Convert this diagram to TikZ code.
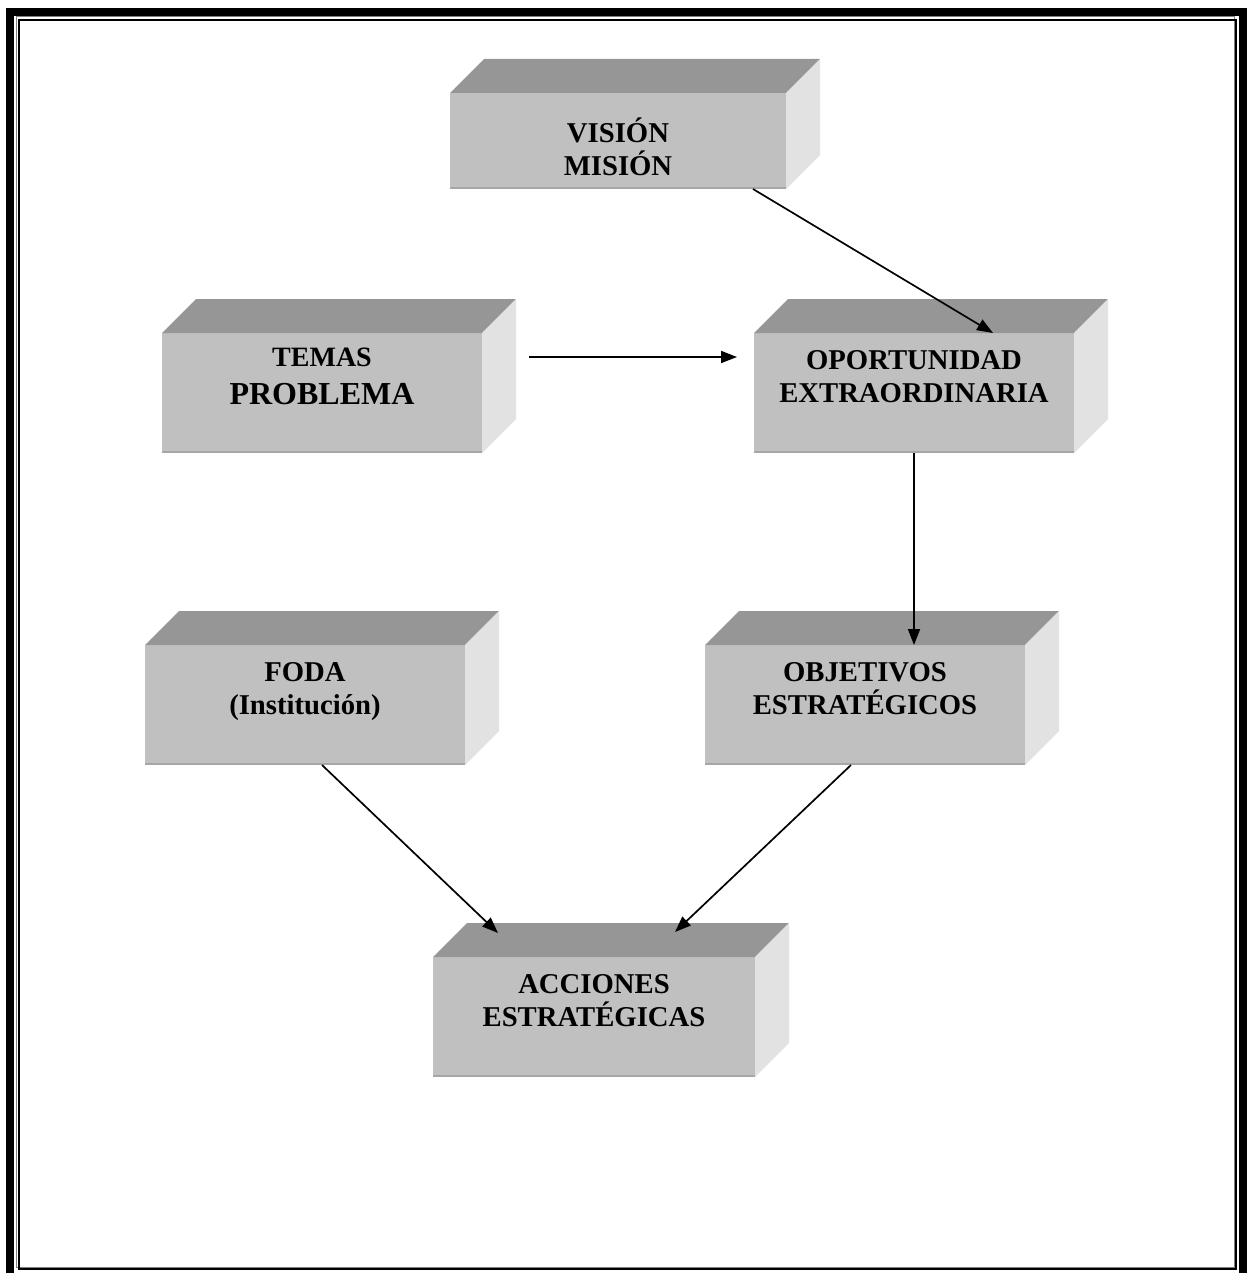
\documentclass[tikz,border=0pt]{standalone}
\usepackage{fontspec}
\setmainfont{Liberation Serif}
\usetikzlibrary{arrows.meta,positioning,calc}
\definecolor{cara}{HTML}{C0C0C0}
\definecolor{tapa}{HTML}{969696}
\definecolor{lado}{HTML}{E2E2E2}
\definecolor{borde}{HTML}{A6A6A6}

\begin{document}
\begin{tikzpicture}[x=1pt,y=-1pt,>={Triangle[length=16pt,width=12pt]},
  bloque/.style={rectangle,fill=cara,inner sep=0pt,outer sep=0pt,minimum width=320pt,minimum height=120pt,align=center,font=\bfseries\fontsize{28.7}{33}\selectfont},
  flecha/.style={->,line width=1.7pt}]
  \useasboundingbox (0,0) rectangle (1249,1273);
  % marco
  \draw[line width=8pt] (10,12.5) rectangle (1243,1290);
  \draw[gray,line width=1pt] (16,17) rectangle (1234,1267);
  \draw[line width=2pt] (18.5,20) rectangle (1236,1269);
  % bloques
  \node[bloque] (temas) at (322,393) {{\fontsize{28}{33}\selectfont TEMAS}\\[5pt]{\fontsize{32}{38}\selectfont PROBLEMA}\\~};
  \node[bloque,right=272pt of temas] (opor) {OPORTUNIDAD\\EXTRAORDINARIA\\~};
  \node[bloque,minimum width=336pt,minimum height=96pt,above=144pt of opor,xshift=-296pt] (vision) {\rule{0pt}{37pt}VISIÓN\\MISIÓN};
  \node[bloque,below=192pt of opor,xshift=-49pt] (obj) {OBJETIVOS\\ESTRATÉGICOS\\~};
  \node[bloque,left=240pt of obj] (foda) {FODA\\(Institución)\\~};
  \node[bloque,minimum width=322pt,below=192pt of obj,xshift=-271pt] (acc) {ACCIONES\\ESTRATÉGICAS\\~};
  % caras de arriba y del lado
  \foreach \n in {vision,temas,opor,foda,obj,acc}{
    \fill[tapa] (\n.north west) -- ++(34,-34) -- ($(\n.north east)+(34,-34)$) -- (\n.north east) -- cycle;
    \fill[lado] (\n.north east) -- ++(34,-34) -- ($(\n.south east)+(34,-34)$) -- (\n.south east) -- cycle;
    \draw[borde,line width=2pt] ([yshift=1pt]\n.south west) -- ([yshift=1pt]\n.south east);
  }
  % flechas
  \draw[flecha] ([xshift=135pt]vision.south) -- ([xshift=79pt]opor.north);
  \draw[flecha] ([xshift=47pt,yshift=36pt]temas.east) -- ([xshift=-17pt,yshift=36pt]opor.west);
  \draw[flecha] (opor.south) -- (opor.south |- obj.north);
  \draw[flecha] ([xshift=17pt]foda.south) -- ([xshift=-96pt,yshift=24pt]acc.north);
  \draw[flecha] ([xshift=-14pt]obj.south) -- ([xshift=81pt,yshift=25pt]acc.north);
\end{tikzpicture}
\end{document}
